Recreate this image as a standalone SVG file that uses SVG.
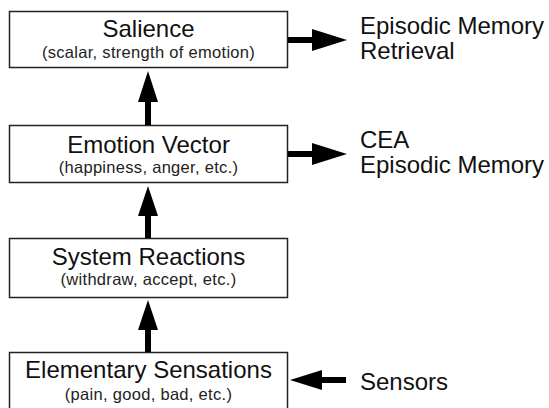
<svg xmlns="http://www.w3.org/2000/svg" width="549" height="408" viewBox="0 0 549 408">
<style>
.box{fill:#fff;stroke:#222;stroke-width:1.5}
.t{font-family:"Liberation Sans",Arial,sans-serif;font-size:24px;fill:#111;text-anchor:middle}
.s{font-family:"Liberation Sans",Arial,sans-serif;font-size:16.5px;letter-spacing:0.3px;fill:#222;text-anchor:middle}
.l{font-family:"Liberation Sans",Arial,sans-serif;font-size:24px;fill:#111}
.shaft{stroke:#000;stroke-width:6;fill:none}
.head{fill:#000}
</style>
<rect width="549" height="408" fill="#fff"/>
<g id="salience">
<rect class="box" x="9.5" y="11.5" width="278" height="56"/>
<text class="t" x="148.5" y="37">Salience</text>
<text class="s" x="148.5" y="58">(scalar, strength of emotion)</text>
</g>
<g id="emotion-vector">
<rect class="box" x="9.5" y="125.5" width="278" height="57"/>
<text class="t" x="148.5" y="153">Emotion Vector</text>
<text class="s" x="148.5" y="173">(happiness, anger, etc.)</text>
</g>
<g id="system-reactions">
<rect class="box" x="9.5" y="238.5" width="278" height="59"/>
<text class="t" x="148.5" y="265">System Reactions</text>
<text class="s" x="148.5" y="285">(withdraw, accept, etc.)</text>
</g>
<g id="elementary-sensations">
<rect class="box" x="9.5" y="352.5" width="278" height="60"/>
<text class="t" x="148.5" y="378">Elementary Sensations</text>
<text class="s" x="148.5" y="400">(pain, good, bad, etc.)</text>
</g>
<g id="episodic-retrieval">
<text class="l" x="360" y="34">Episodic Memory</text>
<text class="l" x="360" y="59">Retrieval</text>
</g>
<g id="cea-episodic">
<text class="l" x="360" y="148">CEA</text>
<text class="l" x="360" y="173">Episodic Memory</text>
</g>
<g id="sensors">
<text class="l" x="360" y="390">Sensors</text>
</g>
<g id="connectors">
<line class="shaft" x1="148" y1="125" x2="148" y2="100"/>
<polygon class="head" points="138,102 148,71 158,102"/>
<line class="shaft" x1="148" y1="238" x2="148" y2="214"/>
<polygon class="head" points="138,216 148,186 158,216"/>
<line class="shaft" x1="148" y1="352" x2="148" y2="328"/>
<polygon class="head" points="138,330 148,300 158,330"/>
<line class="shaft" x1="288" y1="40" x2="314" y2="40"/>
<polygon class="head" points="312,29 347,40 312,51"/>
<line class="shaft" x1="288" y1="154" x2="314" y2="154"/>
<polygon class="head" points="312,143 347,154 312,165"/>
<line class="shaft" x1="346" y1="380" x2="320" y2="380"/>
<polygon class="head" points="322,370 290,380 322,390"/>
</g>
</svg>
